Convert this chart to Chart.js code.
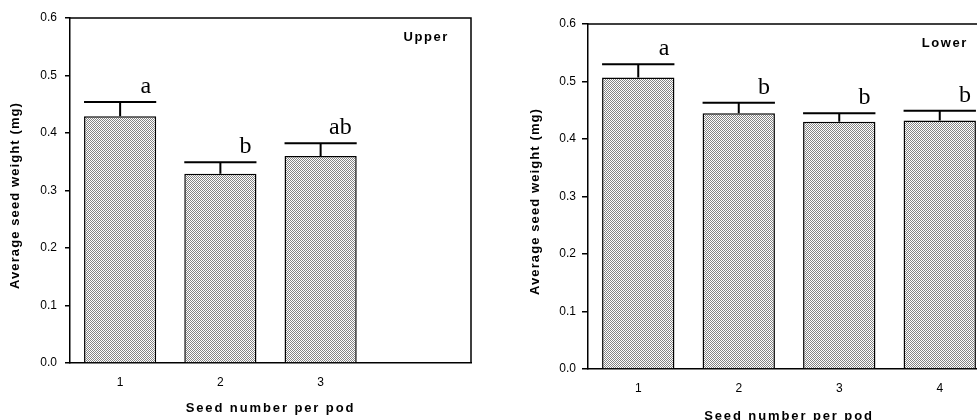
<!DOCTYPE html>
<html><head><meta charset="utf-8">
<script src="https://cdn.jsdelivr.net/npm/chart.js@4.4.1/dist/chart.umd.min.js"></script>
<style>
html,body{margin:0;padding:0;background:#fff;overflow:hidden;width:977px;height:420px;}
#w1{position:absolute;left:0;top:0;width:490px;height:420px;}
#w2{position:absolute;left:490px;top:0;width:530px;height:420px;}
</style></head><body>
<div id="w1"><canvas id="c1"></canvas></div>
<div id="w2"><canvas id="c2"></canvas></div>
<script>
// ---- data ----
const upperCategories = ['1', '2', '3', ''];
const upperMeans = [0.429, 0.329, 0.360, null];
const upperErrors = [0.025, 0.020, 0.022, null];
const upperLetters = ['a', 'b', 'ab', ''];

const lowerCategories = ['1', '2', '3', '4'];
const lowerMeans = [0.507, 0.445, 0.430, 0.432];
const lowerErrors = [0.023, 0.018, 0.015, 0.017];
const lowerLetters = ['a', 'b', 'b', 'b'];

const yTickValues = [0, 0.1, 0.2, 0.3, 0.4, 0.5, 0.6];
const xTitle = 'Seed number per pod';
const yTitle = 'Average seed weight (mg)';

// ---- stipple pattern ----
function makePattern() {
  const pc = document.createElement('canvas');
  pc.width = 2; pc.height = 2;
  const g = pc.getContext('2d');
  g.fillStyle = '#ffffff'; g.fillRect(0, 0, 2, 2);
  g.fillStyle = '#858585';
  g.fillRect(0, 0, 1, 1);
  g.fillRect(1, 1, 1, 1);
  return g.createPattern(pc, 'repeat');
}
const stipple = makePattern();

function makeChart(id, categories, means, errors, letters, panelLabel, geo) {
  const decor = {
    id: 'decor',
    afterDatasetsDraw(chart) {
      const ctx = chart.ctx;
      const a = chart.chartArea;
      const y = chart.scales.y;
      const meta = chart.getDatasetMeta(0);
      ctx.save();
      // frame top & right
      ctx.strokeStyle = '#000';
      ctx.lineWidth = 1.5;
      ctx.beginPath();
      ctx.moveTo(a.left, a.top);
      ctx.lineTo(a.right, a.top);
      ctx.lineTo(a.right, a.bottom);
      ctx.stroke();
      // error bars + letters
      meta.data.forEach((bar, i) => {
        const m = means[i], e = errors[i];
        if (m == null) return;
        const base = y.getPixelForValue(m);
        const top = y.getPixelForValue(m + e);
        const half = bar.width / 2;
        ctx.lineWidth = 2;
        ctx.beginPath();
        ctx.moveTo(bar.x, base); ctx.lineTo(bar.x, top);
        ctx.moveTo(bar.x - half, top); ctx.lineTo(bar.x + half, top);
        ctx.stroke();
        ctx.fillStyle = '#000';
        ctx.font = '24px "Liberation Serif", serif';
        ctx.textAlign = 'right';
        ctx.textBaseline = 'alphabetic';
        ctx.fillText(letters[i], bar.x + half - 5, top - 9);
      });
      // panel label
      ctx.font = 'bold 13px "Liberation Sans", Arial, sans-serif';
      ctx.letterSpacing = '1.6px';
      ctx.textAlign = 'right';
      ctx.textBaseline = 'middle';
      ctx.fillText(panelLabel, a.right - 22, a.top + 19);
      // axis titles
      ctx.textAlign = 'center';
      ctx.letterSpacing = '1.9px';
      ctx.fillText(xTitle, (a.left + a.right) / 2, a.bottom + 45 + geo.xTitleShift);
      ctx.save();
      ctx.letterSpacing = '1.1px';
      ctx.translate(a.left - 55 + geo.yTitleShift, (a.top + a.bottom) / 2 + 5);
      ctx.rotate(-Math.PI / 2);
      ctx.fillText(yTitle, 0, 0);
      ctx.restore();
      ctx.restore();
    }
  };
  return new Chart(document.getElementById(id), {
    type: 'bar',
    data: {
      labels: categories,
      datasets: [{
        data: means,
        backgroundColor: stipple,
        borderColor: '#000',
        borderWidth: 1.5,
        barPercentage: 0.72,
        categoryPercentage: 1.0
      }]
    },
    options: {
      responsive: true,
      maintainAspectRatio: false,
      animation: false,
      events: [],
      layout: { padding: { left: 0, right: geo.padRight, top: geo.padTop, bottom: 0 } },
      plugins: { legend: { display: false }, tooltip: { enabled: false } },
      scales: {
        x: {
          offset: true,
          grid: { display: false },
          border: { display: true, color: '#000', width: 1.5 },
          ticks: { color: '#000', padding: 4, font: { family: '"Liberation Sans", Arial, sans-serif', size: 12 } },
          afterFit(s) { s.height = geo.xHeight; }
        },
        y: {
          min: 0, max: 0.6,
          afterBuildTicks(s) { s.ticks = yTickValues.map(v => ({ value: v })); },
          grid: { display: true, drawOnChartArea: false, drawTicks: true, tickLength: geo.tickLen, color: '#000', lineWidth: 1.5 },
          border: { display: true, color: '#000', width: 1.5 },
          ticks: {
            color: '#000', padding: geo.tickPad,
            font: { family: '"Liberation Sans", Arial, sans-serif', size: 12 },
            callback: v => Number(v).toFixed(1)
          },
          afterFit(s) { s.width = geo.yWidth; }
        }
      }
    },
    plugins: [decor]
  });
}

makeChart('c1', upperCategories, upperMeans, upperErrors, upperLetters, 'Upper',
  { padRight: 19, padTop: 18, xHeight: 57, yWidth: 70, tickLen: 5, tickPad: 8, yTitleShift: 0, xTitleShift: 0 });
makeChart('c2', lowerCategories, lowerMeans, lowerErrors, lowerLetters, 'Lower',
  { padRight: 30, padTop: 24, xHeight: 51, yWidth: 98, tickLen: 6, tickPad: 6, yTitleShift: 2, xTitleShift: 2 });
</script>
</body></html>
